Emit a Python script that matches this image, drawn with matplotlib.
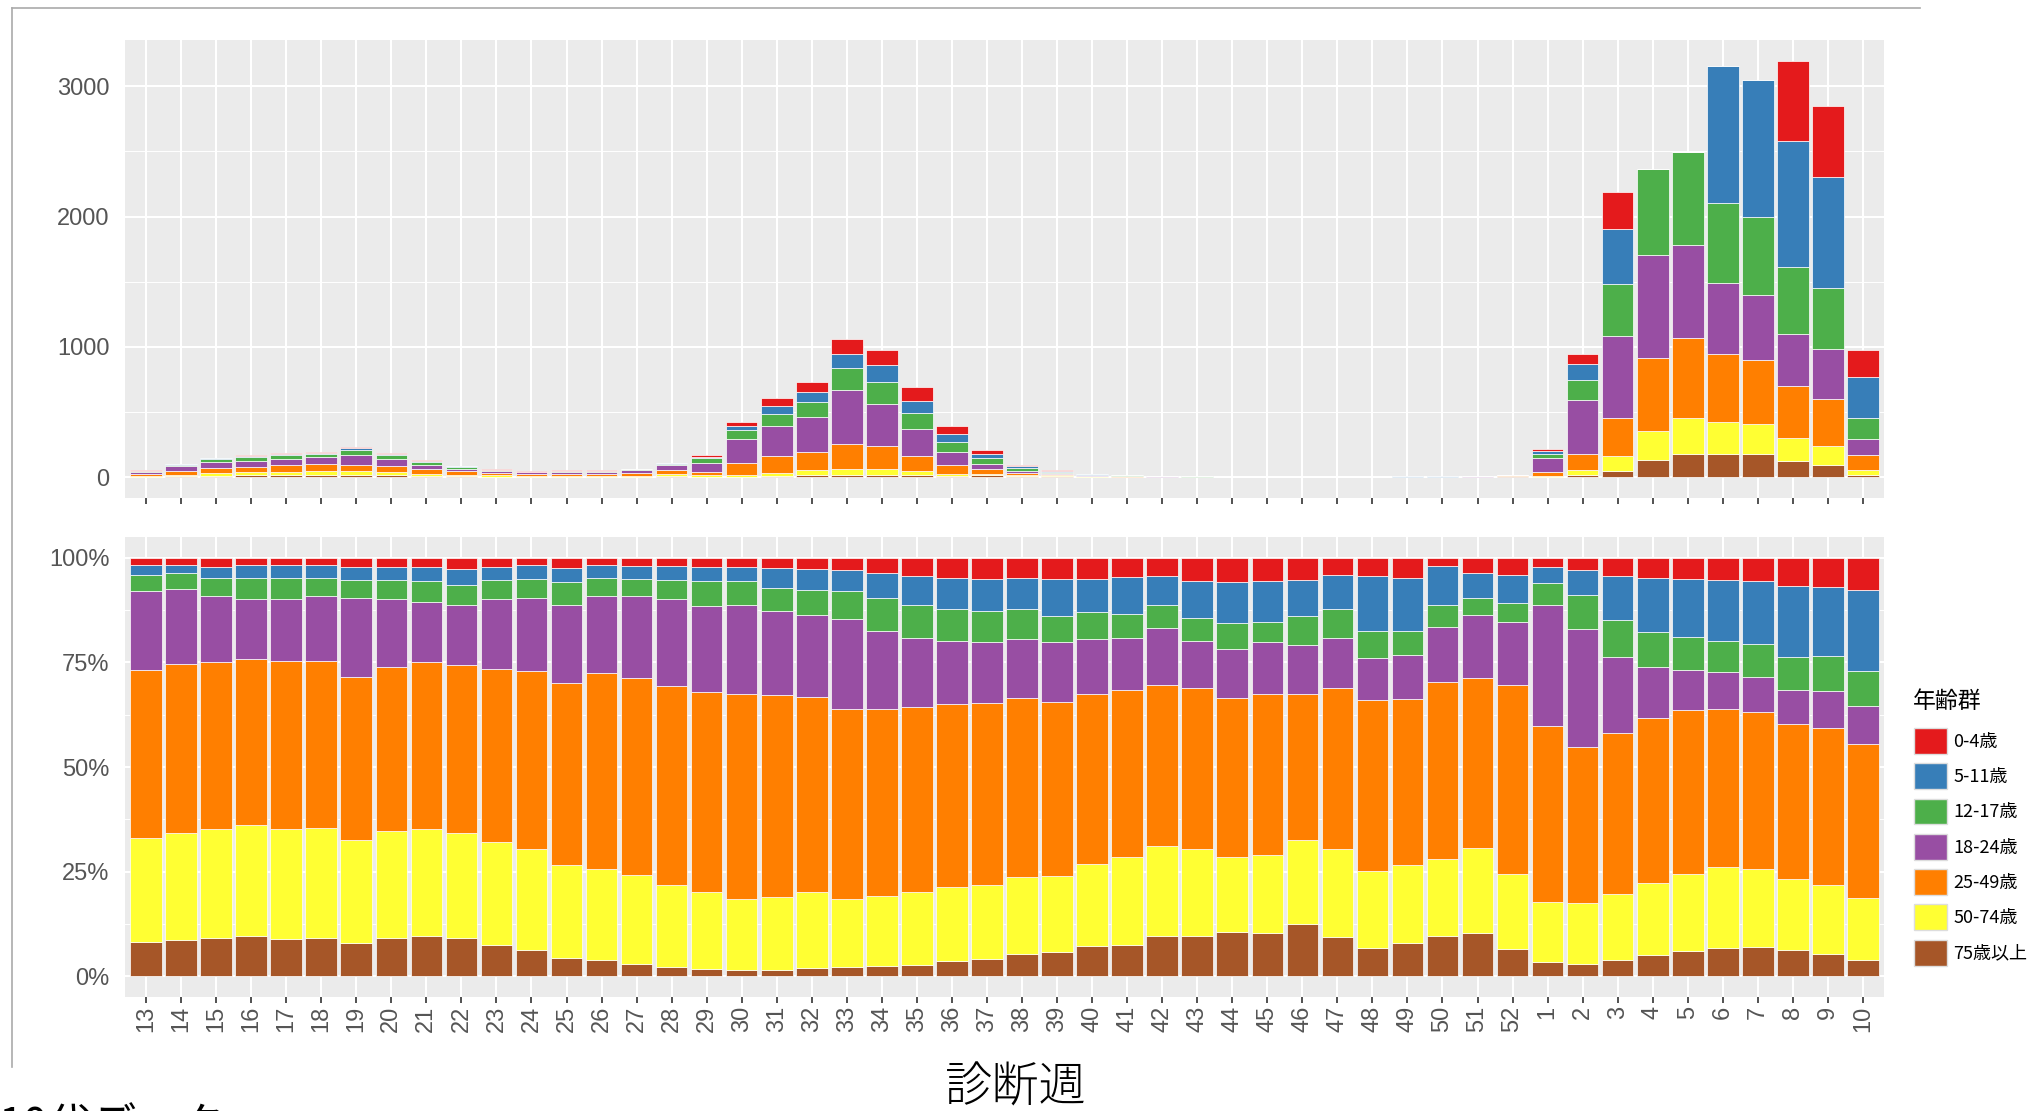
import matplotlib.pyplot as plt
import numpy as np
from matplotlib.patches import Patch
from matplotlib.lines import Line2D

weeks = list(range(13, 53)) + list(range(1, 11))
week_labels = [str(w) for w in weeks]

groups = ['0-4歳', '5-11歳', '12-17歳', '18-24歳', '25-49歳', '50-74歳', '75歳以上']
colors = ['#E41A1C', '#377EB8', '#4DAF4A', '#984EA3', '#FF7F00', '#FFFF33', '#A65628']

# upper panel: weekly case counts per age group
cnt_0_4 = [2, 3, 4, 4, 6, 5, 10, 8, 4, 3, 2, 1, 2, 1, 2,
           3, 13, 26, 57, 77, 111, 116, 103, 62, 36,
           10, 5, 2, 1,
           1, 0, 0, 0, 0, 0, 0, 0, 0, 0,
           0,
           13, 77, 284, 0, 0, 0, 0, 614, 550, 206]
cnt_5_11 = [3, 5, 6, 8, 8, 10, 10, 8, 8, 5, 4, 2, 3, 3, 4,
            5, 13, 34, 67, 77, 114, 129, 95, 59, 28,
            15, 8, 4, 3,
            1, 1, 1, 1, 1, 1, 1, 1, 1, 1,
            1,
            21, 116, 418, 0, 0, 1045, 1055, 968, 849, 317]
cnt_12_17 = [5, 10, 25, 30, 30, 25, 40, 30, 20, 12, 7, 5, 5, 5, 7,
             10, 34, 70, 88, 111, 163, 175, 124, 77, 44,
             20, 10, 5, 3,
             1, 1, 1, 1, 0, 1, 1, 1, 1, 1,
             1,
             34, 155, 400, 663, 710, 617, 593, 511, 467, 160]
cnt_18_24 = [15, 40, 45, 45, 50, 55, 75, 55, 35, 20, 16, 12, 16, 16, 20,
             40, 70, 181, 232, 271, 413, 320, 204, 98, 39,
             15, 8, 4, 3,
             2, 1, 1, 1, 1, 1, 1, 1, 1, 1,
             2,
             103, 413, 632, 792, 720, 544, 503, 405, 387, 124]
cnt_25_49 = [15, 25, 38, 45, 50, 55, 50, 45, 35, 25, 17, 14, 16, 17, 20,
             30, 26, 93, 129, 142, 194, 175, 119, 70, 39,
             15, 8, 5, 4,
             3, 2, 1, 1, 1, 1, 1, 1, 1, 2,
             5,
             31, 129, 289, 555, 609, 526, 493, 395, 359, 111]
cnt_50_74 = [8, 13, 20, 22, 26, 27, 30, 25, 17, 13, 9, 7, 7, 7, 9,
             15, 10, 13, 26, 39, 46, 46, 31, 18, 13,
             10, 6, 3, 2,
             1, 1, 1, 1, 1, 1, 1, 1, 1, 2,
             3,
             10, 39, 119, 227, 281, 245, 230, 178, 150, 39]
cnt_75plus = [4, 7, 12, 14, 16, 17, 17, 15, 10, 7, 4, 3, 3, 3, 3,
              8, 5, 5, 8, 13, 18, 18, 13, 8, 13,
              10, 7, 3, 2,
              1, 1, 0, 0, 1, 0, 0, 1, 1, 1,
              6,
              2, 13, 44, 129, 175, 175, 175, 124, 90, 18]

# lower panel: share of each age group (%)
pct_0_4 = [1.6, 1.6, 2.2, 1.8, 1.8, 1.8, 2.2, 2.2, 2.2, 2.7, 2.2, 1.6, 2.4, 1.8, 1.9,
           1.9, 2.2, 2.2, 2.4, 2.7, 2.9, 3.6, 4.3, 4.7, 5.1,
           4.8, 5.1, 5.1, 4.5,
           4.3, 5.6, 5.7, 5.6, 5.3, 4.0, 4.3, 4.8, 1.9, 3.5,
           4.1,
           2.2, 3.0, 4.3, 4.8, 5.1, 5.3, 5.6, 6.8, 7.0, 7.7]
pct_5_11 = [2.5, 2.1, 2.5, 2.9, 2.9, 2.9, 3.1, 3.1, 3.4, 3.7, 3.1, 3.5, 3.3, 3.0, 3.2,
            3.4, 3.4, 3.4, 4.8, 4.9, 5.1, 6.1, 7.0, 7.6, 7.6,
            7.5, 8.8, 7.8, 8.8,
            6.9, 8.7, 9.8, 9.7, 8.6, 8.1, 13.2, 12.7, 9.4, 6.2,
            6.6,
            3.9, 5.8, 10.6, 13.0, 13.8, 14.6, 15.0, 16.9, 16.5, 19.4]
pct_12_17 = [3.8, 3.8, 4.4, 5.2, 5.2, 4.4, 4.3, 4.6, 4.9, 4.8, 4.6, 4.6, 5.5, 4.3, 4.0,
             4.6, 5.9, 5.6, 5.5, 6.1, 6.7, 7.8, 7.8, 7.6, 7.4,
             7.0, 6.2, 6.5, 5.8,
             5.5, 5.6, 6.3, 4.8, 7.0, 7.0, 6.4, 5.8, 5.2, 4.0,
             4.6,
             5.2, 8.1, 8.8, 8.3, 8.0, 7.5, 7.8, 8.0, 8.4, 8.4]
pct_18_24 = [18.8, 17.9, 15.9, 14.3, 14.7, 15.5, 18.9, 16.2, 14.5, 14.3, 16.7, 17.4, 18.8, 18.5, 19.7,
             20.7, 20.5, 21.4, 20.0, 19.5, 21.5, 18.7, 16.5, 15.1, 14.5,
             14.3, 14.3, 13.2, 12.4,
             13.6, 11.3, 11.8, 12.5, 11.7, 12.1, 10.1, 10.5, 13.1, 15.1,
             15.1,
             28.9, 28.3, 18.1, 12.3, 9.5, 8.8, 8.4, 8.1, 8.8, 9.1]
pct_25_49 = [40.2, 40.5, 39.9, 39.7, 40.3, 39.9, 39.0, 39.2, 39.9, 40.2, 41.3, 42.4, 43.5, 46.8, 47.1,
             47.6, 48.0, 49.0, 48.3, 46.8, 45.4, 44.6, 44.2, 43.6, 43.5,
             42.7, 41.6, 40.5, 40.0,
             38.6, 38.3, 37.9, 38.5, 34.9, 38.3, 40.9, 39.7, 42.3, 40.6,
             45.1,
             42.0, 37.4, 38.6, 39.4, 39.2, 37.8, 37.6, 37.1, 37.6, 36.7]
pct_50_74 = [25.0, 25.5, 26.1, 26.4, 26.3, 26.4, 24.5, 25.7, 25.4, 25.3, 24.7, 24.3, 22.2, 21.7, 21.3,
             19.6, 18.4, 17.0, 17.5, 18.1, 16.3, 16.9, 17.5, 17.8, 17.8,
             18.3, 18.3, 19.7, 21.0,
             21.6, 21.0, 17.9, 18.5, 20.1, 21.2, 18.3, 18.6, 18.6, 20.2,
             18.0,
             14.5, 14.5, 15.8, 17.2, 18.5, 19.2, 18.6, 16.8, 16.3, 14.8]
pct_75plus = [8.1, 8.6, 9.0, 9.7, 8.8, 9.1, 8.0, 9.0, 9.7, 9.0, 7.4, 6.2, 4.3, 3.9, 2.8,
              2.2, 1.6, 1.4, 1.5, 1.9, 2.1, 2.3, 2.7, 3.6, 4.1,
              5.4, 5.7, 7.2, 7.5,
              9.5, 9.5, 10.6, 10.4, 12.4, 9.3, 6.8, 7.9, 9.5, 10.4,
              6.5,
              3.3, 2.9, 3.8, 5.0, 5.9, 6.8, 7.0, 6.3, 5.4, 3.9]

counts = np.array([cnt_0_4, cnt_5_11, cnt_12_17, cnt_18_24, cnt_25_49, cnt_50_74, cnt_75plus], dtype=float)
shares = np.array([pct_0_4, pct_5_11, pct_12_17, pct_18_24, pct_25_49, pct_50_74, pct_75plus], dtype=float)
shares = shares / shares.sum(axis=0)   # like position = "fill"

W, H = 2029, 1111
fig = plt.figure(figsize=(W / 100, H / 100), dpi=100)
x = np.arange(len(weeks))

tick_font = {'family': ['Liberation Sans', 'DejaVu Sans'], 'size': 17, 'color': '#555555'}
cjk = ['Noto Sans CJK JP', 'DejaVu Sans']


def style_axes(ax):
    ax.set_facecolor('#EBEBEB')
    for s in ax.spines.values():
        s.set_visible(False)
    ax.set_axisbelow(True)
    ax.grid(True, which='major', color='white', linewidth=1.5)
    ax.grid(True, which='minor', axis='y', color='white', linewidth=0.7)
    ax.set_xlim(-0.6, len(weeks) - 0.4)
    ax.set_xticks(x)
    ax.tick_params(axis='x', length=4.5, width=1.2, color='#333333', pad=2)
    ax.tick_params(axis='y', which='both', length=0, pad=11)


def stack(ax, data):
    bottom = np.zeros(data.shape[1])
    # ggplot puts the first level on top, so draw from the last group upward
    for i in range(len(groups) - 1, -1, -1):
        ax.bar(x, data[i], width=0.9, bottom=bottom, color=colors[i],
               edgecolor='white', linewidth=0.5)
        bottom += data[i]


# top: counts
ax1 = fig.add_axes([125 / W, 1 - 498 / H, 1759 / W, 458 / H])
style_axes(ax1)
stack(ax1, counts)
tot = counts.sum(axis=0).max()
ax1.set_ylim(-0.05 * tot, 1.05 * tot)
ax1.set_yticks([0, 1000, 2000, 3000])
ax1.set_yticks([500, 1500, 2500], minor=True)
ax1.set_yticklabels(['0', '1000', '2000', '3000'], fontdict=tick_font)
ax1.set_xticklabels([])

# bottom: shares
ax2 = fig.add_axes([125 / W, 1 - 997 / H, 1759 / W, 460 / H])
style_axes(ax2)
stack(ax2, shares)
ax2.set_ylim(-0.05, 1.05)
ax2.set_yticks([0, 0.25, 0.5, 0.75, 1.0])
ax2.set_yticks([0.125, 0.375, 0.625, 0.875], minor=True)
ax2.set_yticklabels(['0%', '25%', '50%', '75%', '100%'], fontdict=tick_font)
ax2.set_xticklabels(week_labels, fontdict=tick_font, rotation=90, va='top', ha='center')

# legend (title drawn separately so the gap to the keys can be set)
fig.text(1913 / W, 1 - 701 / H, '年齢群', ha='left', va='center', fontsize=16.5, family=cjk)
handles = [Patch(facecolor=c, edgecolor='#DDDDDD', linewidth=1.0) for c in colors]
leg = fig.legend(handles, groups, loc='upper left', bbox_to_anchor=(1914 / W, 1 - 728 / H),
                 frameon=False, prop={'family': cjk, 'size': 13},
                 handlelength=1.83, handleheight=1.83, labelspacing=0.52,
                 handletextpad=0.35, borderpad=0, borderaxespad=0)

fig.text(1016 / W, 1 - 1088 / H, '診断週', ha='center', va='center',
         fontsize=34, family=cjk, fontweight='light')

# slide frame and the clipped caption at the bottom edge
fig.add_artist(Line2D([12 / W, 1920 / W], [1 - 8 / H, 1 - 8 / H], color='#AAAAAA', linewidth=1.2))
fig.add_artist(Line2D([12 / W, 12 / W], [1 - 8 / H, 1 - 1067 / H], color='#AAAAAA', linewidth=1.2))
fig.text(-2 / W, 1 - 1104 / H, '10代データ・', ha='left', va='top', fontsize=32, family=cjk)

fig.savefig('out.png', dpi=100, facecolor='white')
